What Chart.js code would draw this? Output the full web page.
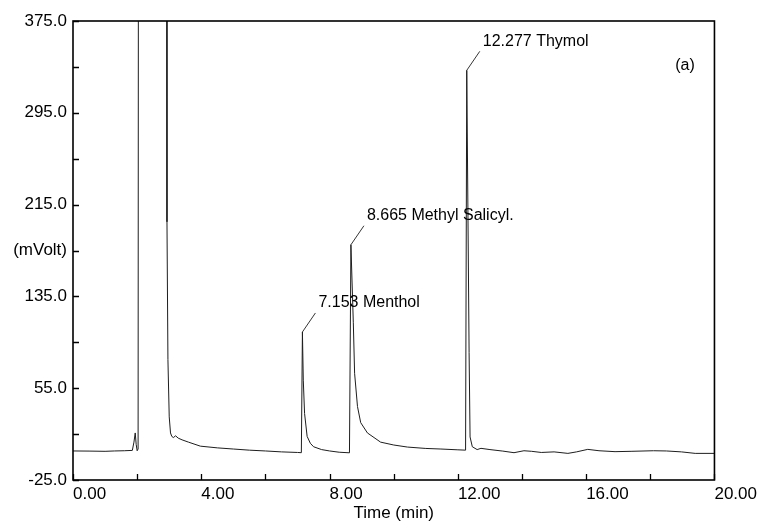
<!DOCTYPE html>
<html lang="en">
<head>
    <meta charset="UTF-8">
    <title>Chromatogram (a)</title>
    <script src="https://cdn.jsdelivr.net/npm/chart.js"></script>
    <style>
        html, body { margin: 0; padding: 0; background: #fff; }
        .chart-box { width: 761px; height: 528px; }
    </style>
</head>
<body>
    <div class="chart-box">
        <canvas id="gcChart" width="761" height="528"></canvas>
    </div>

    <script>
        // retention time (min) and detector signal (mVolt)
        const times = [
            0.00, 0.50, 1.00, 1.30, 1.60, 1.85, 1.90, 1.94, 1.97, 2.00,
            2.03, 2.06, 2.50, 2.90, 2.93, 2.96, 3.00, 3.04, 3.08, 3.13,
            3.20, 3.28, 3.40, 3.60, 3.97, 4.50, 5.00, 5.50, 6.00, 6.50,
            7.00, 7.12, 7.153, 7.18, 7.22, 7.30, 7.40, 7.50, 7.75, 8.00,
            8.30, 8.62, 8.665, 8.74, 8.78, 8.87, 8.97, 9.18, 9.59, 10.00,
            10.43, 11.00, 11.47, 12.00, 12.24, 12.277, 12.35, 12.38, 12.45, 12.60,
            12.72, 13.00, 13.40, 13.75, 14.06, 14.30, 14.60, 15.00, 15.43, 15.70,
            16.05, 16.40, 16.90, 17.40, 18.10, 18.50, 18.97, 19.40, 20.00
        ];
        const signal = [
            0.3, 0.2, 0.0, 0.3, 0.5, 0.8, 8, 16, 6, 0.5,
            2, 1500, 2500, 1500, 200, 80, 30, 16, 13, 12,
            13.5, 11.5, 10, 8, 4.5, 3, 2, 1, 0.3, -0.5,
            -1, -1.2, 104, 62, 33, 13, 7, 4, 1.5, 0.3,
            -0.8, -1.3, 180, 112, 68, 39, 25, 16, 8, 5.5,
            3.7, 2.5, 2, 1.3, 1, 332, 86, 12.5, 4, 1.5,
            2.6, 1.5, 0.2, -1.2, 0.5, 0, -1, -0.5, -1.8, -0.5,
            1.7, 0.5, -0.3, 0, 0.5, 0.3, -0.5, -1.8, -1.8
        ];

        // labelled peaks
        const peakTimes = [7.153, 8.665, 12.277];
        const peakHeights = [104, 180, 332];
        const peakNames = ['Menthol', 'Methyl Salicyl.', 'Thymol'];

        // axis ticks
        const xTicks = [0, 2, 4, 6, 8, 10, 12, 14, 16, 18, 20];
        const xLabelled = [0, 4, 8, 12, 16, 20];
        const yTicks = [-25, 15, 55, 95, 135, 175, 215, 255, 295, 335, 375];
        const yLabels = {'-25': '-25.0', '55': '55.0', '135': '135.0', '175': '(mVolt)', '215': '215.0', '295': '295.0', '375': '375.0'};

        const FONT = '"Liberation Sans", Arial, sans-serif';
        const points = times.map((t, i) => ({ x: t, y: signal[i] }));

        // frame, inward tick marks, peak labels and the panel tag
        const decorations = {
            id: 'decorations',
            afterDraw(chart) {
                const ctx = chart.ctx;
                const a = chart.chartArea;
                const xs = chart.scales.x;
                const ys = chart.scales.y;
                ctx.save();

                ctx.strokeStyle = '#000';
                ctx.lineWidth = 1.6;
                ctx.strokeRect(a.left, a.top, a.right - a.left, a.bottom - a.top);

                ctx.lineWidth = 1.3;
                ctx.beginPath();
                xTicks.forEach(v => {
                    const px = Math.round(xs.getPixelForValue(v)) + 0.5;
                    ctx.moveTo(px, a.bottom);
                    ctx.lineTo(px, a.bottom - 6);
                });
                yTicks.forEach(v => {
                    const py = Math.round(ys.getPixelForValue(v)) + 0.5;
                    ctx.moveTo(a.left, py);
                    ctx.lineTo(a.left + 6, py);
                });
                ctx.stroke();

                ctx.fillStyle = '#000';
                ctx.font = '16px ' + FONT;
                ctx.textBaseline = 'middle';
                ctx.textAlign = 'left';
                ctx.lineWidth = 0.8;
                peakTimes.forEach((t, i) => {
                    const px = xs.getPixelForValue(t);
                    const py = ys.getPixelForValue(peakHeights[i]);
                    const ex = px + 13, ey = py - 19;
                    ctx.beginPath();
                    ctx.moveTo(px, py);
                    ctx.lineTo(ex, ey);
                    ctx.stroke();
                    ctx.fillText(t.toFixed(3) + ' ' + peakNames[i], ex + 3, ey - 10);
                });

                ctx.textAlign = 'center';
                ctx.fillText('(a)', 685, 66);
                ctx.restore();
            }
        };

        new Chart(document.getElementById('gcChart').getContext('2d'), {
            type: 'line',
            data: {
                datasets: [{
                    data: points,
                    borderColor: '#1e1e1e',
                    borderWidth: 1,
                    pointRadius: 0,
                    tension: 0,
                    fill: false
                }]
            },
            options: {
                responsive: false,
                animation: false,
                layout: { padding: { left: 0, top: 21, right: 46, bottom: 0 } },
                plugins: {
                    legend: { display: false },
                    tooltip: { enabled: false }
                },
                scales: {
                    x: {
                        type: 'linear',
                        min: 0,
                        max: 20,
                        grid: { display: false, drawTicks: false },
                        border: { display: false },
                        afterBuildTicks: s => { s.ticks = xTicks.map(v => ({ value: v })); },
                        afterFit: s => { s.height = 48; },
                        ticks: {
                            autoSkip: false,
                            maxRotation: 0,
                            align: 'start',
                            padding: 4,
                            color: '#000',
                            font: { family: FONT, size: 17 },
                            callback: v => xLabelled.includes(v) ? v.toFixed(2) : ''
                        },
                        title: {
                            display: true,
                            text: 'Time (min)',
                            color: '#000',
                            font: { family: FONT, size: 17 },
                            padding: { top: 0, bottom: 4 }
                        }
                    },
                    y: {
                        min: -25,
                        max: 375,
                        grid: { display: false, drawTicks: false },
                        border: { display: false },
                        afterBuildTicks: s => { s.ticks = yTicks.map(v => ({ value: v })); },
                        afterFit: s => { s.width = 73; },
                        ticks: {
                            autoSkip: false,
                            padding: 6,
                            color: '#000',
                            font: { family: FONT, size: 17 },
                            callback: v => yLabels[String(v)] || ''
                        }
                    }
                }
            },
            plugins: [decorations]
        });
    </script>
</body>
</html>
